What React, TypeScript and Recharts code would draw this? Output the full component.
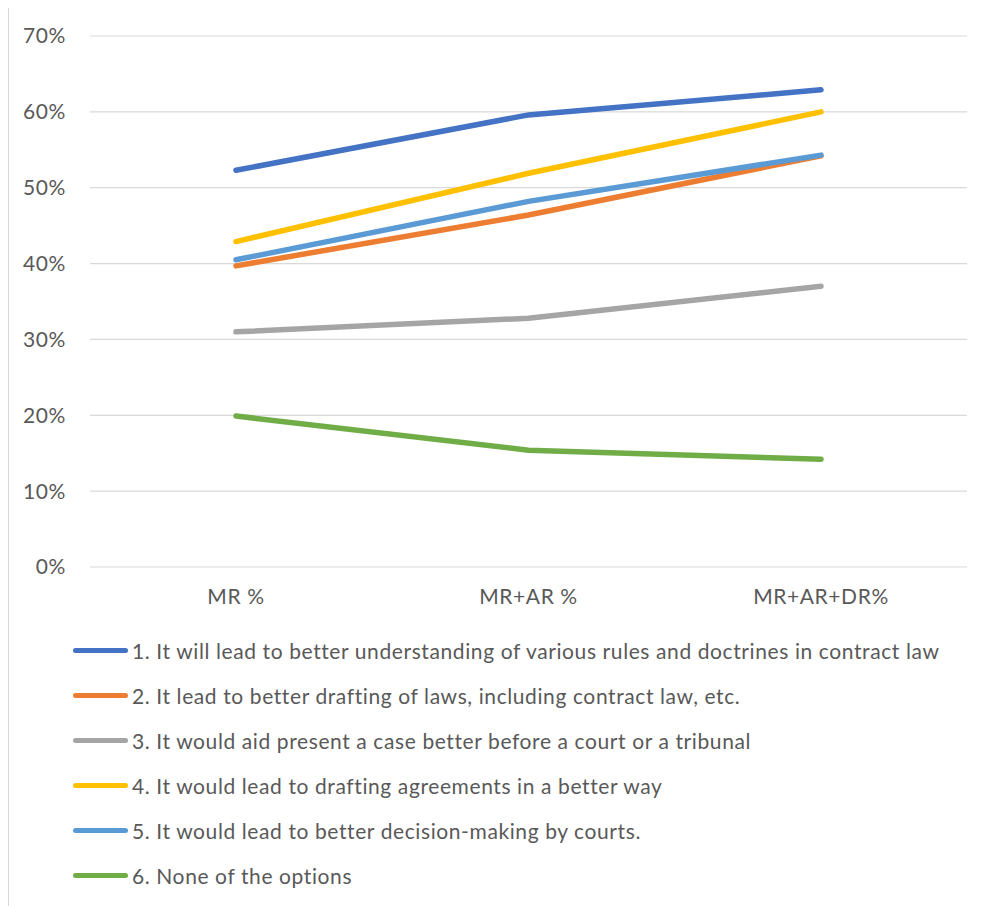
import React from 'react';
import { LineChart, Line, XAxis, YAxis, CartesianGrid, Legend } from 'recharts';

// Survey results: share of respondents choosing each benefit, per reading group
const categories = ['MR %', 'MR+AR %', 'MR+AR+DR%'];

const seriesNames = [
  '1. It will lead to better understanding of various rules and doctrines in contract law',
  '2. It lead to better drafting of laws, including contract law, etc.',
  '3. It would aid present a case better before a court or a tribunal',
  '4. It would lead to drafting agreements in a better way',
  '5. It would lead to better decision-making by courts.',
  '6. None of the options',
];

const understanding = [52.3, 59.6, 62.9];
const draftingLaws = [39.7, 46.4, 54.2];
const presentCase = [31.0, 32.8, 37.0];
const draftingAgreements = [42.9, 51.9, 60.0];
const decisionMaking = [40.5, 48.2, 54.3];
const noneOfThese = [19.9, 15.4, 14.2];

const yTicks = [0, 10, 20, 30, 40, 50, 60, 70];

const seriesValues = [understanding, draftingLaws, presentCase, draftingAgreements, decisionMaking, noneOfThese];
const colors = ['#4472C4', '#ED7D31', '#A5A5A5', '#FFC000', '#5B9BD5', '#70AD47'];
const keys = ['s1', 's2', 's3', 's4', 's5', 's6'];

const data = categories.map((cat, i) => {
  const row: Record<string, string | number> = { cat };
  keys.forEach((k, s) => {
    row[k] = seriesValues[s][i];
  });
  return row;
});

const FONT = 'Lato, "Open Sans", sans-serif';
const TEXT = '#595959';
const tickStyle = { fill: TEXT, fontSize: 21, fontFamily: FONT, letterSpacing: 0.6 };

function LegendRows() {
  return (
    <div
      style={{
        height: 270,
        paddingLeft: 64,
        fontFamily: FONT,
        fontSize: 21,
        letterSpacing: 0.6,
        color: TEXT,
        textAlign: 'left',
      }}
    >
      {seriesNames.map((name, i) => (
        <div key={name} style={{ height: 45, display: 'flex', alignItems: 'center' }}>
          <span
            style={{
              display: 'inline-block',
              width: 55,
              height: 5,
              borderRadius: 3,
              background: colors[i],
              marginRight: 4,
            }}
          />
          <span style={{ whiteSpace: 'nowrap' }}>{name}</span>
        </div>
      ))}
    </div>
  );
}

export default function App() {
  return (
    <div style={{ marginTop: -1, width: 990, height: 905, border: '1px solid #d9d9d9', background: '#fff' }}>
      <LineChart width={978} height={898} data={data} margin={{ top: 28, right: 20, left: 21, bottom: 8 }}>
        <CartesianGrid vertical={false} stroke="#d9d9d9" strokeWidth={1.2} />
        <XAxis
          dataKey="cat"
          scale="point"
          padding={{ left: 146, right: 146 }}
          axisLine={false}
          tickLine={false}
          tickSize={0}
          tickMargin={22}
          height={61}
          tick={tickStyle}
        />
        <YAxis
          width={60}
          domain={[0, 70]}
          ticks={yTicks}
          tickFormatter={(v: number) => `${v}%`}
          axisLine={false}
          tickLine={false}
          tickSize={0}
          tickMargin={24}
          tick={tickStyle}
        />
        {keys.map((k, i) => (
          <Line
            key={k}
            type="linear"
            dataKey={k}
            name={seriesNames[i]}
            stroke={colors[i]}
            strokeWidth={5.5}
            strokeLinecap="round"
            dot={false}
            activeDot={false}
            isAnimationActive={false}
          />
        ))}
        <Legend
          layout="horizontal"
          verticalAlign="bottom"
          align="left"
          height={270}
          wrapperStyle={{ left: 0, width: 978 }}
          content={() => <LegendRows />}
        />
      </LineChart>
    </div>
  );
}
